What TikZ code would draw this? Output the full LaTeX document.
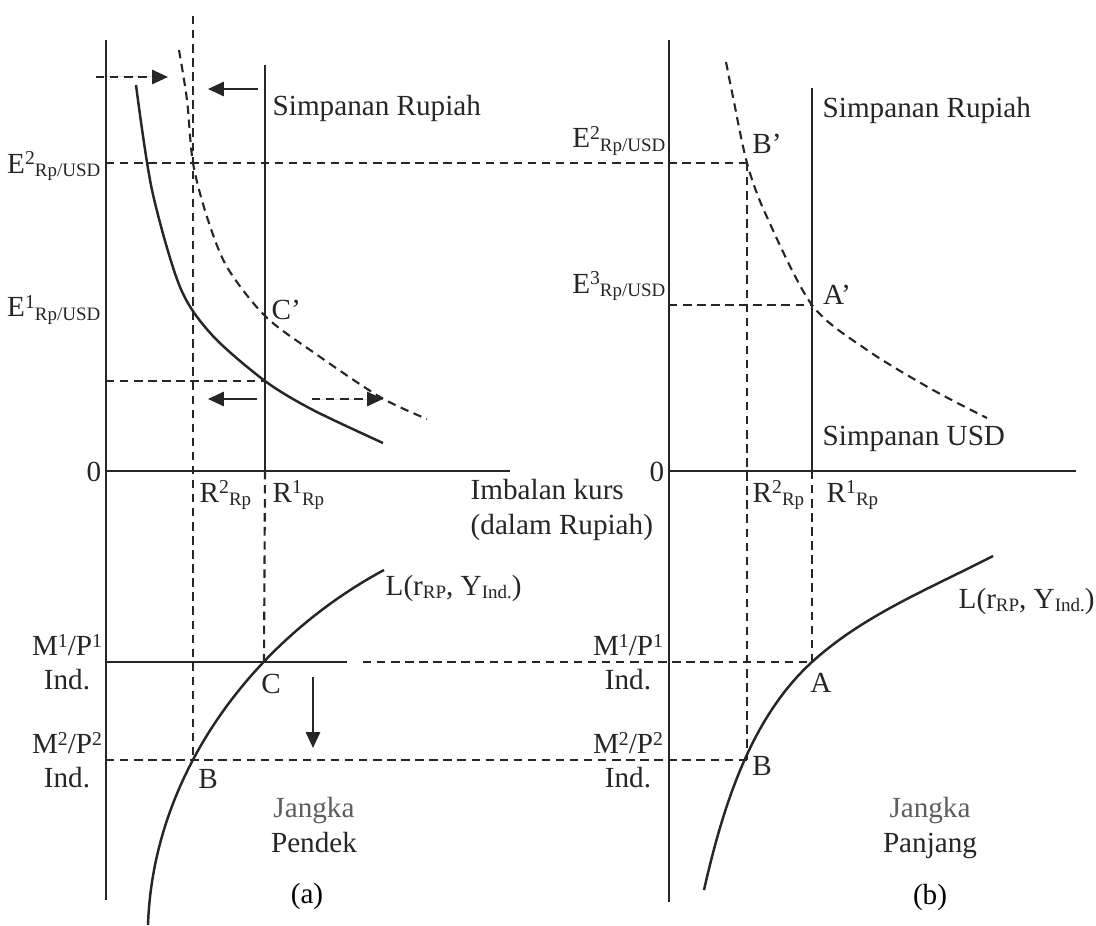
\documentclass[tikz,border=0pt]{standalone}
\usepackage{fontspec}
\setmainfont{Liberation Serif}
\usepackage{xcolor}
\definecolor{inkdark}{RGB}{38,38,38}
\definecolor{inkgray}{RGB}{95,95,95}
\usetikzlibrary{arrows.meta}
\newcommand{\lblfont}{\fontsize{8.3}{9.7}\selectfont}
\newcommand{\supmark}[1]{\raisebox{2.4pt}{\fontsize{5.6}{6}\selectfont #1}}
\newcommand{\submark}[1]{\raisebox{-1.1pt}{\fontsize{5.4}{6}\selectfont #1}}

\begin{document}
\begin{tikzpicture}[x=0.1mm,y=-0.1mm,
  axisline/.style={draw=inkdark,line width=0.75pt},
  guide/.style={draw=inkdark,line width=0.6pt,dash pattern=on 2.4pt off 1.6pt},
  curveline/.style={draw=inkdark,line width=0.7pt},
  shiftarrow/.style={-{Triangle[length=4.5pt,width=4pt]},line width=0.7pt,draw=inkdark,fill=inkdark},
  lbl/.style={text=inkdark,font=\lblfont,inner sep=0pt}
]
  \useasboundingbox[fill=white] (0,0) rectangle (1096,926);

  % key points
  \coordinate (Cp) at (265,316);
  \coordinate (C) at (264,662);
  \coordinate (Bl) at (193,760);
  \coordinate (Bp) at (747,163);
  \coordinate (Ap) at (812,305);
  \coordinate (A) at (812,662);
  \coordinate (Br) at (747,760);

  % Panel (a): axes and deposit line
  \draw[axisline] (106,40) -- (106,900);
  \draw[axisline] (106,471) -- (510,471);
  \draw[axisline] (265,65) -- (265,471);
  \draw[axisline] (106,662) -- (347,662);

  % Panel (b): axes and deposit line
  \draw[axisline] (669,40) -- (669,902);
  \draw[axisline] (669,471) -- (1076,471);
  \draw[axisline] (812,88) -- (812,471);

  % guide lines
  \draw[guide] (106,163) -- (Bp);
  \draw[guide] (193,16) -- (Bl);
  \draw[guide] (265,471) -- (C);
  \draw[guide] (106,381) -- (265,381);
  \draw[guide] (363,662) -- (A);
  \draw[guide] (106,760) -- (Br);
  \draw[guide] (Bp) -- (Br);
  \draw[guide] (812,471) -- (A);
  \draw[guide] (669,305) -- (Ap);

  % return curves
  \draw[curveline] plot[smooth] coordinates {(136,85) (152,190) (180,287) (212,335) (265,381) (313,410) (383,443)};
  \draw[guide] plot[smooth] coordinates {(179,50) (187,100) (193,163) (207,217) (227,267) (Cp) (313,352) (380,397) (427,419)};
  \draw[guide] plot[smooth] coordinates {(726,62) (733,97) (Bp) (766,215) (Ap) (867,350) (933,390) (987,418)};

  % liquidity curves
  \draw[curveline] (148,925) .. controls (153,773) and (254,640) .. (384,570);
  \draw[curveline] (704,890) .. controls (722.6,808) and (750,718.5) .. (A)
    .. controls (863.7,614.9) and (930.8,588.1) .. (993,556);

  % shift arrows
  \draw[shiftarrow,dash pattern=on 2.4pt off 1.6pt] (96,77) -- (168,77);
  \draw[shiftarrow] (258,89) -- (208,89);
  \draw[shiftarrow] (257,399) -- (208,399);
  \draw[shiftarrow,dash pattern=on 2.4pt off 1.6pt] (312,399) -- (383,399);
  \draw[shiftarrow] (313,677) -- (313,748);

  % labels, panel (a)
  \node[lbl,anchor=west] (rupiahL) at (272,108) {Simpanan Rupiah};
  \node[lbl,anchor=west] (cprime) at (271,310) {C’};
  \node[lbl] (zeroL) at (94,472) {0};
  \node[lbl,anchor=base east] (etwoL) at (101,173) {E\supmark{2}\submark{Rp/USD}};
  \node[lbl,anchor=base east] (eoneL) at (101,317) {E\supmark{1}\submark{Rp/USD}};
  \node[lbl,anchor=base west] (rtwoL) at (199,502) {R\supmark{2}\submark{Rp}};
  \node[lbl,anchor=base west] (roneL) at (272,502) {R\supmark{1}\submark{Rp}};
  \node[lbl,anchor=west,align=left] (imbalan) at (470,510) {Imbalan kurs\\(dalam Rupiah)};
  \node[lbl,align=center] (mponeL) at (67,662) {M\supmark{1}/P\supmark{1}\\Ind.};
  \node[lbl,align=center] (mptwoL) at (67,760) {M\supmark{2}/P\supmark{2}\\Ind.};
  \node[lbl] (ptC) at (271,684) {C};
  \node[lbl] (ptBl) at (208,779) {B};
  \node[lbl,anchor=base west] (liqL) at (385,595) {L(r\submark{RP}, Y\submark{Ind.})};
  \node[lbl,align=center] (pendek) at (314,825) {{\color{inkgray}Jangka}\\Pendek};
  \node[lbl,text=black] (capA) at (307,896) {(a)};

  % labels, panel (b)
  \node[lbl,anchor=west] (rupiahR) at (822,110) {Simpanan Rupiah};
  \node[lbl,anchor=west] (usd) at (822,439) {Simpanan USD};
  \node[lbl] (ptBp) at (767,144) {B’};
  \node[lbl] (ptAp) at (837,295) {A’};
  \node[lbl] (zeroR) at (657,472) {0};
  \node[lbl,anchor=base east] (etwoR) at (666,148) {E\supmark{2}\submark{Rp/USD}};
  \node[lbl,anchor=base east] (ethreeR) at (666,293) {E\supmark{3}\submark{Rp/USD}};
  \node[lbl,anchor=base west] (rtwoR) at (752,502) {R\supmark{2}\submark{Rp}};
  \node[lbl,anchor=base west] (roneR) at (826,502) {R\supmark{1}\submark{Rp}};
  \node[lbl,align=center] (mponeR) at (628,662) {M\supmark{1}/P\supmark{1}\\Ind.};
  \node[lbl,align=center] (mptwoR) at (628,760) {M\supmark{2}/P\supmark{2}\\Ind.};
  \node[lbl] (ptA) at (821,683) {A};
  \node[lbl] (ptBr) at (762,766) {B};
  \node[lbl,anchor=base west] (liqR) at (958,608) {L(r\submark{RP}, Y\submark{Ind.})};
  \node[lbl,align=center] (panjang) at (930,828) {{\color{inkgray}Jangka}\\Panjang};
  \node[lbl,text=black] (capB) at (930,897) {(b)};
\end{tikzpicture}
\end{document}
